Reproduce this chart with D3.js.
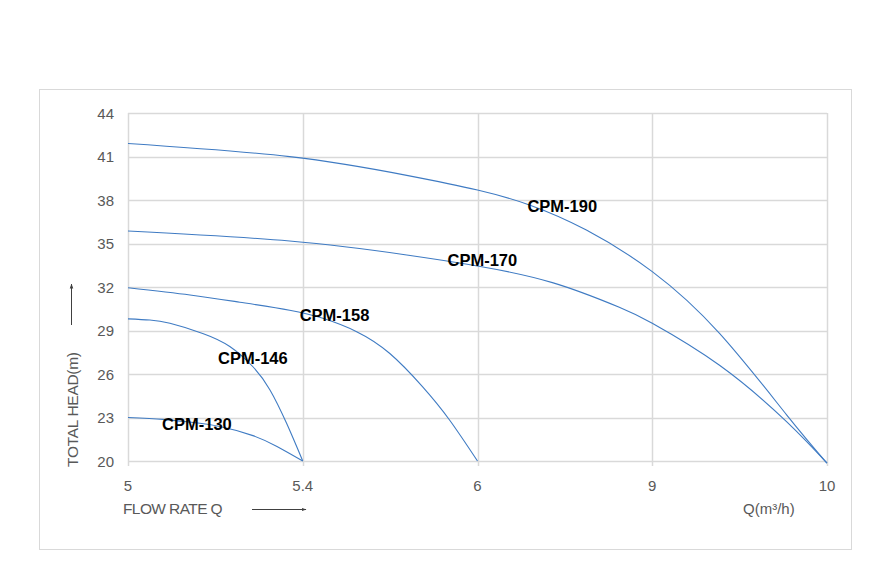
<!DOCTYPE html>
<html>
<head>
<meta charset="utf-8">
<script src="https://cdn.jsdelivr.net/npm/d3@7"></script>
<style>
  body { margin: 0; background: #fff; }
  text { font-family: Arial, "Liberation Sans", sans-serif; }
</style>
</head>
<body>
<svg id="chart" width="894" height="585"></svg>
<script>
// x axis breaks (equally spaced on screen, like the original)
const xTicks = [5, 5.4, 6, 9, 10];
const yTicks = [20, 23, 26, 29, 32, 35, 38, 41, 44];

// pump curves: [flow Q, head H]
const cpm130 = [[5, 23.0], [5.08, 22.87], [5.142, 22.68], [5.21, 22.38], [5.286, 21.75], [5.341, 21.0], [5.4, 20.0]];
const cpm146 = [[5, 29.8], [5.05, 29.72], [5.096, 29.5], [5.171, 28.8], [5.233, 27.9], [5.286, 26.5], [5.325, 24.9], [5.363, 22.6], [5.4, 20.0]];
const cpm158 = [[5, 31.95], [5.142, 31.45], [5.256, 30.95], [5.37, 30.4], [5.469, 29.84], [5.585, 28.92], [5.698, 27.43], [5.811, 25.13], [5.904, 22.83], [6, 20.0]];
const cpm170 = [[5, 35.86], [5.37, 35.17], [5.757, 34.21], [6, 33.45], [7.286, 32.3], [8.434, 30.6], [9, 29.5], [9.385, 26.6], [9.77, 22.7], [10, 19.85]];
const cpm190 = [[5, 41.9], [5.37, 40.99], [5.757, 39.7], [6, 38.69], [6.891, 37.66], [7.869, 35.93], [9, 33.06], [9.385, 28.8], [9.77, 23.17], [10, 19.85]];

const seriesNames = ['CPM-130', 'CPM-146', 'CPM-158', 'CPM-170', 'CPM-190'];
const seriesData = [cpm130, cpm146, cpm158, cpm170, cpm190];
// label anchors (left edge, vertical middle) in data units
const labelPos = [[5.078, 22.55], [5.206, 27.1], [5.393, 30.07], [5.897, 33.86], [6.857, 37.59]];

const svg = d3.select('#chart');
const cs = {
  left: 128, right: 827, top: 113, bottom: 461,
  grid: '#d9d9d9',
  line: '#3f7bc3',
  tick: '#595959',
};

// frame
svg.append('rect')
  .attr('x', 39.5).attr('y', 89.5)
  .attr('width', 812).attr('height', 460)
  .attr('fill', 'none').attr('stroke', '#d9d9d9');

const x = d3.scaleLinear()
  .domain(xTicks)
  .range(xTicks.map((d, i) => cs.left + i * (cs.right - cs.left) / (xTicks.length - 1)));
const y = d3.scaleLinear().domain([20, 44]).range([cs.bottom, cs.top]);

// grid
svg.append('g').selectAll('line.h').data(yTicks).enter()
  .append('line')
  .attr('x1', cs.left).attr('x2', cs.right)
  .attr('y1', d => Math.round(y(d)) + 0.5).attr('y2', d => Math.round(y(d)) + 0.5)
  .attr('stroke', cs.grid).attr('stroke-width', 1.5);
svg.append('g').selectAll('line.v').data(xTicks).enter()
  .append('line')
  .attr('x1', d => Math.round(x(d)) + 0.5).attr('x2', d => Math.round(x(d)) + 0.5)
  .attr('y1', cs.top).attr('y2', cs.bottom + 5)
  .attr('stroke', cs.grid).attr('stroke-width', 1.5);

// tick labels
svg.append('g').selectAll('text').data(yTicks).enter()
  .append('text')
  .attr('x', 114).attr('y', d => y(d) + 5.5)
  .attr('text-anchor', 'end')
  .attr('font-size', 15).attr('fill', cs.tick)
  .text(d => d);
svg.append('g').selectAll('text').data(xTicks).enter()
  .append('text')
  .attr('x', d => x(d)).attr('y', 491)
  .attr('text-anchor', 'middle')
  .attr('font-size', 15).attr('fill', cs.tick)
  .text(d => d);

// curves
const line = d3.line()
  .x(d => x(d[0]))
  .y(d => y(d[1]))
  .curve(d3.curveNatural);
svg.append('g').selectAll('path').data(seriesData).enter()
  .append('path')
  .attr('d', line)
  .attr('fill', 'none')
  .attr('stroke', cs.line)
  .attr('stroke-width', 1.1);

// curve labels
svg.append('g').selectAll('text').data(seriesNames).enter()
  .append('text')
  .attr('x', (d, i) => x(labelPos[i][0]))
  .attr('y', (d, i) => y(labelPos[i][1]))
  .attr('dy', '0.36em')
  .attr('font-size', 16.5).attr('font-weight', 'bold')
  .attr('fill', '#000')
  .text(d => d);

// axis titles + arrows
svg.append('defs').append('marker')
  .attr('id', 'arr').attr('viewBox', '0 0 10 10')
  .attr('refX', 9).attr('refY', 5)
  .attr('markerWidth', 5).attr('markerHeight', 5)
  .attr('orient', 'auto')
  .append('path').attr('d', 'M0,1.5L10,5L0,8.5Z').attr('fill', '#404040');

svg.append('text')
  .attr('x', 123).attr('y', 514)
  .attr('font-size', 15.5).attr('fill', cs.tick)
  .attr('letter-spacing', -0.6)
  .text('FLOW RATE Q');
svg.append('line')
  .attr('x1', 252).attr('x2', 306).attr('y1', 509.5).attr('y2', 509.5)
  .attr('stroke', '#404040').attr('stroke-width', 1)
  .attr('marker-end', 'url(#arr)');

svg.append('text')
  .attr('x', 743).attr('y', 514)
  .attr('font-size', 15).attr('fill', cs.tick)
  .text('Q(m³/h)');

svg.append('text')
  .attr('transform', 'translate(78,467) rotate(-90)')
  .attr('font-size', 15.5).attr('fill', cs.tick)
  .attr('letter-spacing', -0.3)
  .text('TOTAL HEAD(m)');
svg.append('line')
  .attr('x1', 71.5).attr('x2', 71.5).attr('y1', 325).attr('y2', 284)
  .attr('stroke', '#404040').attr('stroke-width', 1)
  .attr('marker-end', 'url(#arr)');
</script>
</body>
</html>
